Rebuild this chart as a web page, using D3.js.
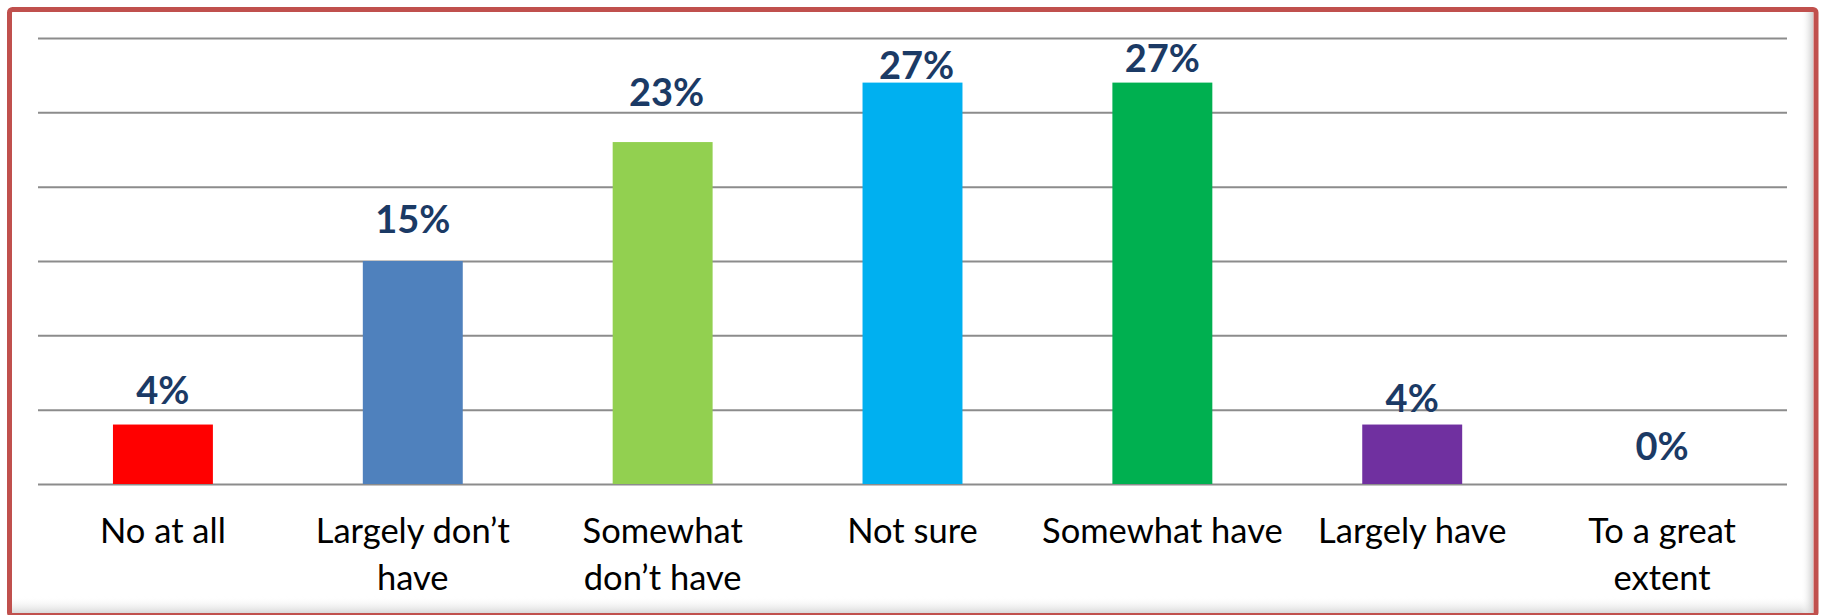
<!DOCTYPE html>
<html>
<head>
<meta charset="utf-8">
<script src="https://cdn.jsdelivr.net/npm/d3@7"></script>
<style>
  html, body { margin: 0; padding: 0; background: #ffffff; }
  svg { display: block; }
</style>
</head>
<body>
<svg id="chart" width="1822" height="615"></svg>
<script>
// Survey answers and their shares (percent)
const categories = [
  "No at all",
  "Largely don’t\nhave",
  "Somewhat\ndon’t have",
  "Not sure",
  "Somewhat have",
  "Largely have",
  "To a great\nextent"
];
const values = [4, 15, 23, 27, 27, 4, 0];
const barColors = ["#FF0000", "#4F81BD", "#92D050", "#00B0F0", "#00B050", "#7030A0", "#7F7F7F"];
const gridTicks = [0, 5, 10, 15, 20, 25, 30];

// Hand placement of the value labels above each bar (px above bar top, px sideways)
const labelLift = [20.5, 28, 36, 3.5, 10.5, 12.5, 24];
const labelShift = [0, 0, 4, 4, 0, 0, 0];

const W = 1822, H = 615;
const plot = { left: 38, right: 1787, top: 38, bottom: 484 };

const svg = d3.select("#chart");
const defs = svg.append("defs");

// soft inner shadow along the bottom and right of the frame
const gB = defs.append("linearGradient").attr("id", "shadeB").attr("x1", 0).attr("y1", 0).attr("x2", 0).attr("y2", 1);
gB.append("stop").attr("offset", "0%").attr("stop-color", "#ffffff").attr("stop-opacity", 0);
gB.append("stop").attr("offset", "100%").attr("stop-color", "#d9d9d9").attr("stop-opacity", 1);
const gR = defs.append("linearGradient").attr("id", "shadeR").attr("x1", 0).attr("y1", 0).attr("x2", 1).attr("y2", 0);
gR.append("stop").attr("offset", "0%").attr("stop-color", "#ffffff").attr("stop-opacity", 0);
gR.append("stop").attr("offset", "100%").attr("stop-color", "#cfcfcf").attr("stop-opacity", 1);

svg.append("rect").attr("x", 0).attr("y", 0).attr("width", W).attr("height", H).attr("fill", "#ffffff");
svg.append("rect").attr("x", 12).attr("y", 596).attr("width", 1801).attr("height", 17).attr("fill", "url(#shadeB)");
svg.append("rect").attr("x", 1801).attr("y", 12).attr("width", 12).attr("height", 601).attr("fill", "url(#shadeR)");

// outer frame
svg.append("rect")
  .attr("x", 9.5).attr("y", 9.5)
  .attr("width", 1806.5).attr("height", 606)
  .attr("rx", 3).attr("ry", 3)
  .attr("fill", "none")
  .attr("stroke", "#C0504D")
  .attr("stroke-width", 5);

const x = d3.scaleBand()
  .domain(categories)
  .range([plot.left, plot.right])
  .paddingInner(0.6)
  .paddingOuter(0.3);

const y = d3.scaleLinear()
  .domain([0, 30])
  .range([plot.bottom, plot.top]);

// horizontal gridlines (no tick labels)
const yAxis = d3.axisLeft(y)
  .tickValues(gridTicks)
  .tickSize(-(plot.right - plot.left))
  .tickFormat("");
const gy = svg.append("g")
  .attr("transform", `translate(${plot.left},0)`)
  .call(yAxis);
gy.select(".domain").remove();
gy.selectAll(".tick line")
  .attr("stroke", "#8C8C8C")
  .attr("stroke-width", 2);

// bars
svg.append("g").selectAll("rect")
  .data(values)
  .join("rect")
  .attr("x", (d, i) => x(categories[i]))
  .attr("y", d => y(d))
  .attr("width", x.bandwidth())
  .attr("height", d => y(0) - y(d))
  .attr("fill", (d, i) => barColors[i]);

// value labels
svg.append("g").selectAll("text")
  .data(values)
  .join("text")
  .attr("x", (d, i) => x(categories[i]) + x.bandwidth() / 2 + labelShift[i])
  .attr("y", (d, i) => y(d) - labelLift[i])
  .attr("text-anchor", "middle")
  .attr("font-family", "Lato, 'Open Sans', sans-serif")
  .attr("font-weight", 700)
  .attr("font-size", 38)
  .attr("fill", "#1B3A65")
  .text(d => d + "%");

// category labels under the axis, wrapped onto two lines where needed
const cat = svg.append("g").selectAll("text")
  .data(categories)
  .join("text")
  .attr("x", d => x(d) + x.bandwidth() / 2)
  .attr("y", 543)
  .attr("text-anchor", "middle")
  .attr("font-family", "Lato, 'Open Sans', sans-serif")
  .attr("font-size", 34.5)
  .attr("fill", "#000000");
cat.each(function (d) {
  const t = d3.select(this);
  const cx = t.attr("x");
  d.split("\n").forEach((line, k) => {
    t.append("tspan").attr("x", cx).attr("dy", k === 0 ? 0 : 47).text(line);
  });
});
</script>
</body>
</html>
